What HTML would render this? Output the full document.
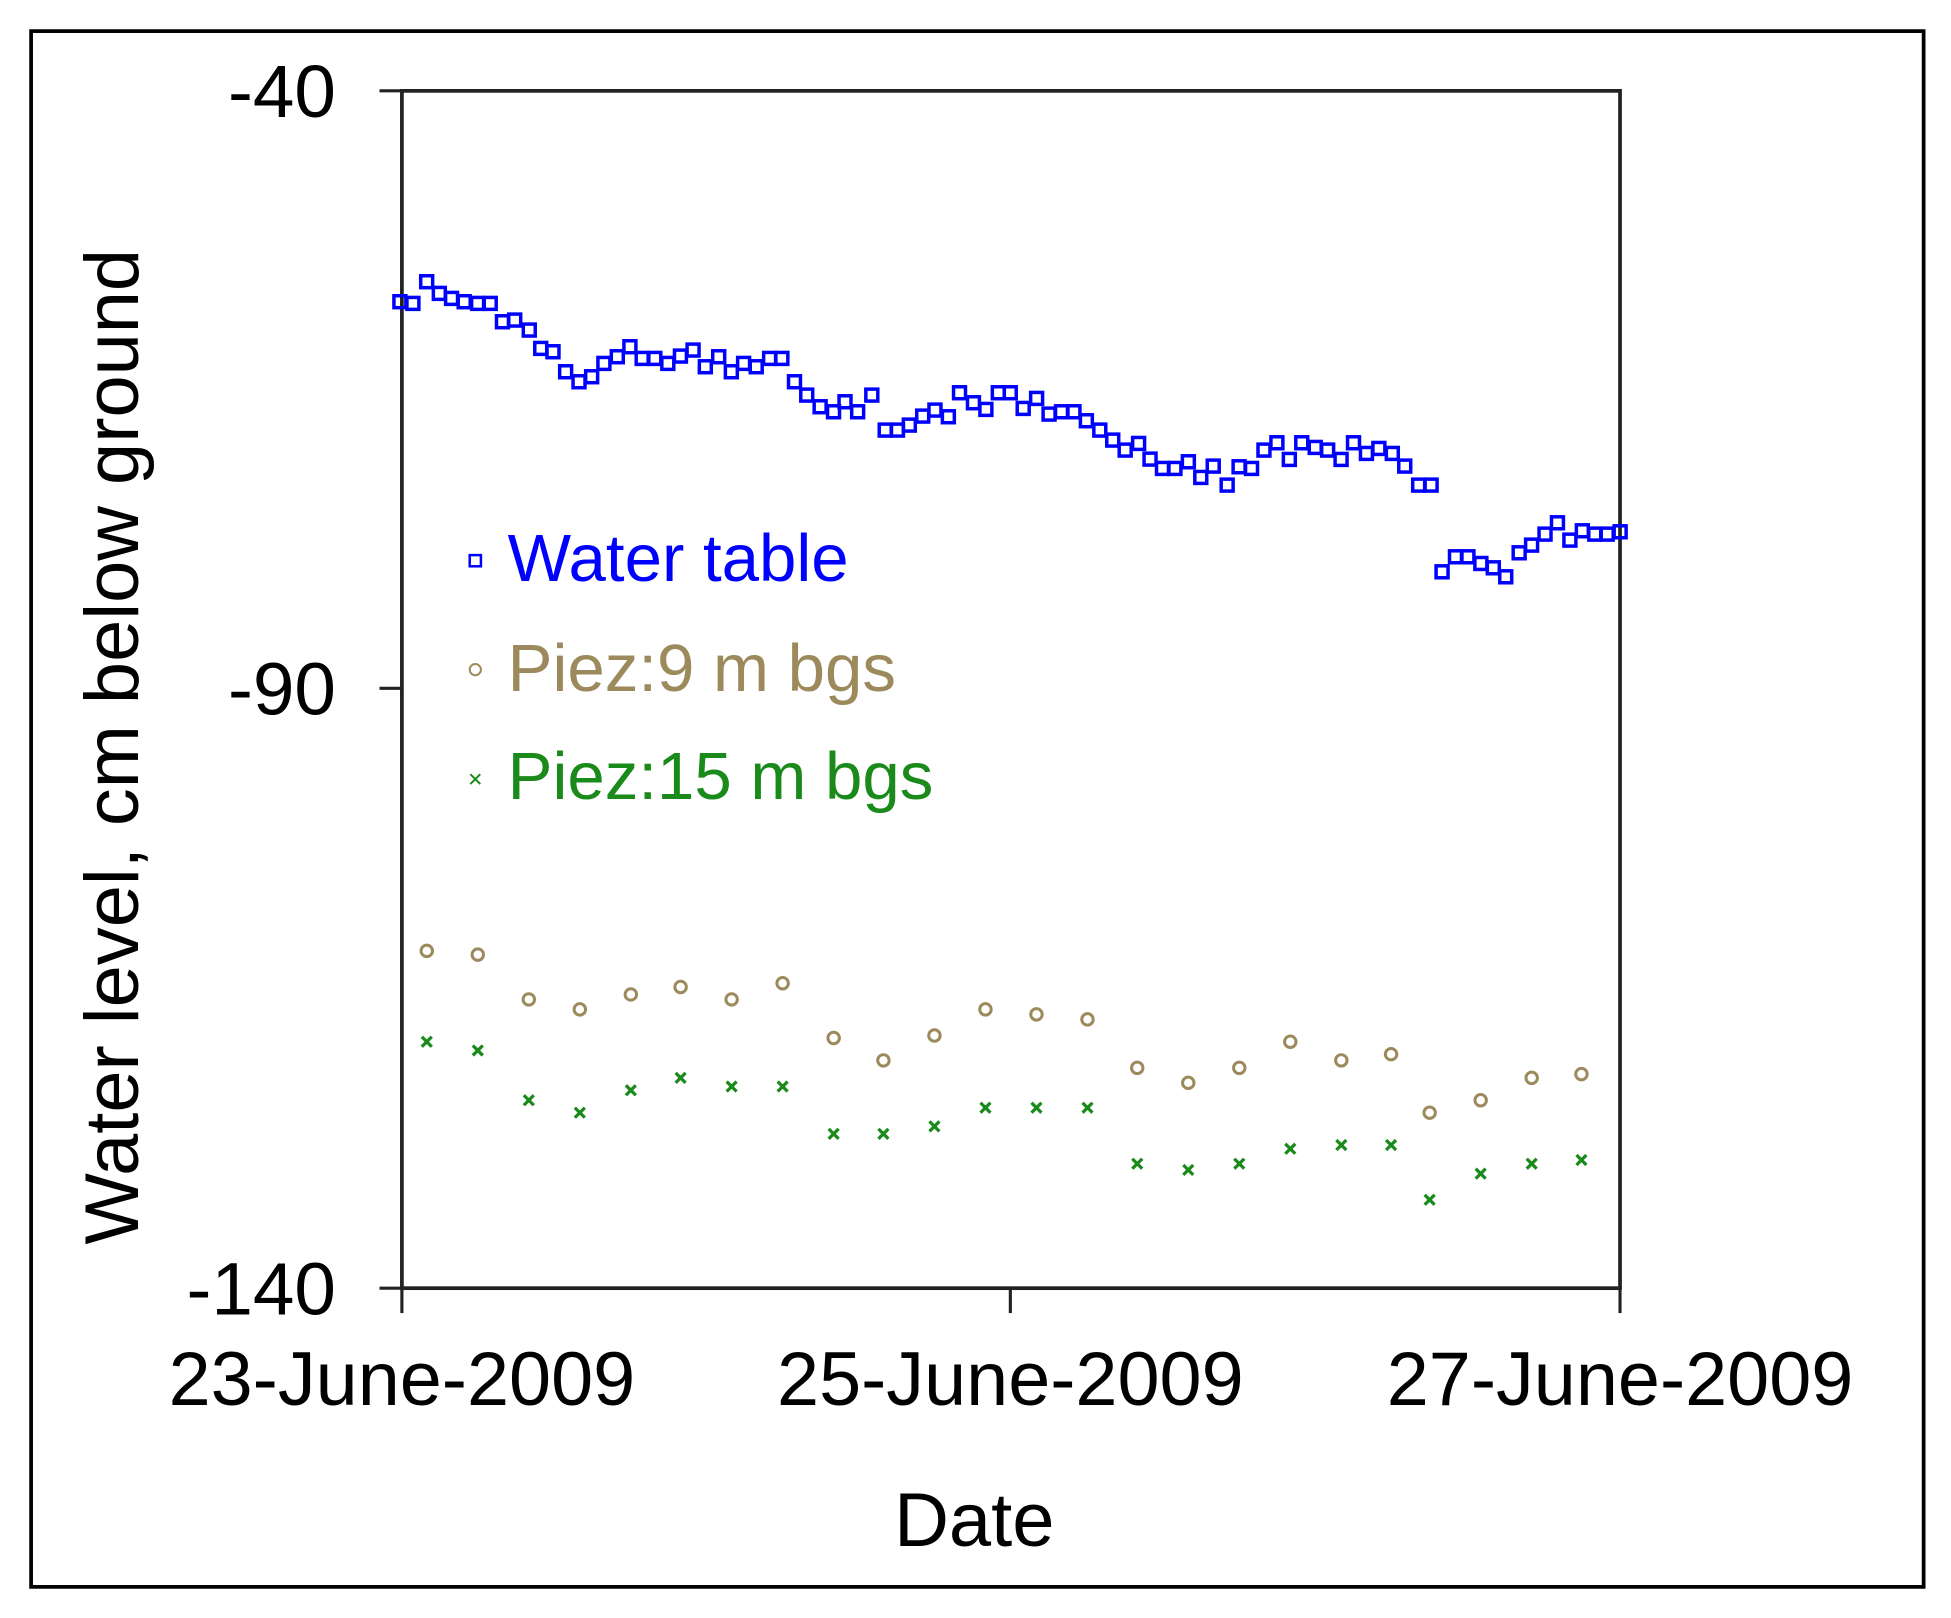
<!DOCTYPE html>
<html><head><meta charset="utf-8"><style>
html,body{margin:0;padding:0;background:#fff;width:1951px;height:1618px;overflow:hidden}
svg{display:block}
text{font-family:"Liberation Sans",Arial,sans-serif}
</style></head><body>
<svg id="s" width="1951" height="1618" viewBox="0 0 1568 1300" preserveAspectRatio="none" xmlns="http://www.w3.org/2000/svg">
<rect x="25" y="25" width="1521" height="1250" fill="#fff" stroke="#000" stroke-width="3"/>
<rect x="323" y="73" width="979" height="962" fill="none" stroke="#222" stroke-width="3"/>
<g stroke="#222" stroke-width="2.5">
<line x1="305" y1="73" x2="323" y2="73"/><line x1="305" y1="553" x2="323" y2="553"/><line x1="305" y1="1035" x2="323" y2="1035"/>
<line x1="323" y1="1035" x2="323" y2="1055"/><line x1="812" y1="1035" x2="812" y2="1055"/><line x1="1302" y1="1035" x2="1302" y2="1055"/>
</g>
<g font-size="60" fill="#000" text-anchor="end">
<text x="270" y="94">-40</text><text x="270" y="574">-90</text><text x="270" y="1056">-140</text>
</g>
<g font-size="61" fill="#000" text-anchor="middle">
<text x="323" y="1129" textLength="375" lengthAdjust="spacingAndGlyphs">23-June-2009</text><text x="812" y="1129" textLength="375" lengthAdjust="spacingAndGlyphs">25-June-2009</text><text x="1302" y="1129" textLength="375" lengthAdjust="spacingAndGlyphs">27-June-2009</text>
<text x="783" y="1242">Date</text>
<text transform="translate(111,600) rotate(-90)" textLength="800" lengthAdjust="spacingAndGlyphs">Water level, cm below ground</text>
</g>
<g font-size="54">
<text x="408" y="467" fill="#0000ff">Water table</text>
<text x="408" y="555" fill="#9c8a5c">Piez:9 m bgs</text>
<text x="408" y="642" fill="#1a8a1a">Piez:15 m bgs</text>
</g>
<rect x="377.5" y="446" width="9" height="9" fill="none" stroke="#0000ff" stroke-width="2"/>
<circle cx="382" cy="538" r="4.5" fill="none" stroke="#9c8a5c" stroke-width="1.6"/>
<g stroke="#1a8a1a" stroke-width="1.6"><line x1="378" y1="622" x2="386" y2="630"/><line x1="386" y1="622" x2="378" y2="630"/></g>
<g id="pts"></g>
</svg>
<script>
var g=document.getElementById('pts'),h='';
var z2=[[52,155],[86,160],[122,95],[155,130],[187,145],[220,155],[255,160],[288,160],[320,215],[352,210],[390,240],[420,295],[452,305],[485,365],[520,395],[553,380],[585,340],[620,320],[653,290],[685,325],[718,325],[752,340],[785,318],[818,300],[850,350],[885,320],[918,365],[950,340],[983,350],[1018,325],[1050,325],[1083,395],[1115,435],[1150,470],[1185,485],[1215,455],[1248,485],[1285,435],[1320,540],[1352,540],[1383,525],[1418,498],[1450,480],[1485,500]];
var z3=[[200,98],[228,128],[253,148],[278,98],[302,98],[328,145],[355,115],[380,162],[405,155],[430,155],[455,182],[482,210],[508,240],[533,270],[560,250],[583,297],[608,325],[633,325],[660,305],[685,352],[710,318],[738,375],[762,320],[787,325],[812,270],[838,248],[863,298],[888,248],[915,262],[940,270],[967,298],[992,248],[1018,280],[1043,265],[1070,280],[1095,318],[1123,375],[1148,375],[1170,635],[1197,590],[1222,590],[1248,610],[1273,623],[1298,650],[1325,578],[1350,555],[1377,522],[1402,488],[1427,540],[1452,512],[1477,522],[1502,522],[1528,515]];
function sq(x,y){h+='<rect x="'+(x-4.8)+'" y="'+(y-4.8)+'" width="9.6" height="9.6" fill="none" stroke="#0000ff" stroke-width="2.8"/>';}
z2.forEach(function(p){sq(305.4+p[0]*0.3076,200.9+p[1]*0.2679);});
z3.forEach(function(p){sq(691.2+p[0]*0.3998,289.3+p[1]*0.2679);});
var c=[[343,764],[384,767],[425,803],[466,811],[507,799],[547,793],[588,803],[629,790],[670,834],[710,852],[751,832],[792,811],[833,815],[874,819],[914,858],[955,870],[996,858],[1037,837],[1078,852],[1118,847],[1149,894],[1190,884],[1231,866],[1271,863]];
c.forEach(function(p){h+='<circle cx="'+p[0]+'" cy="'+p[1]+'" r="4.6" fill="none" stroke="#9c8a5c" stroke-width="2.4"/>';});
var x=[[343,837],[384,844],[425,884],[466,894],[507,876],[547,866],[588,873],[629,873],[670,911],[710,911],[751,905],[792,890],[833,890],[874,890],[914,935],[955,940],[996,935],[1037,923],[1078,920],[1118,920],[1149,964],[1190,943],[1231,935],[1271,932]];
x.forEach(function(p){var a=p[0],b=p[1];h+='<g stroke="#1a8a1a" stroke-width="2.6"><line x1="'+(a-4)+'" y1="'+(b-4)+'" x2="'+(a+4)+'" y2="'+(b+4)+'"/><line x1="'+(a+4)+'" y1="'+(b-4)+'" x2="'+(a-4)+'" y2="'+(b+4)+'"/></g>';});
g.innerHTML=h;
</script>
</body></html>
